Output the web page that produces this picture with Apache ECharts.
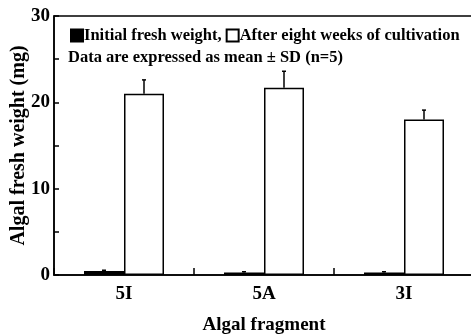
<!DOCTYPE html>
<html><head><meta charset="utf-8">
<script src="https://cdn.jsdelivr.net/npm/echarts@6/dist/echarts.min.js"></script>
<style>html,body{margin:0;padding:0;background:#fff}#c{width:471px;height:334px}</style>
</head><body><div id="c"></div>
<script>
var categories = ['5I', '5A', '3I'];
var initialMean = [0.45, 0.3, 0.3];
var initialSD = [0.1, 0.08, 0.08];
var afterMean = [21.0, 21.7, 18.0];
var afterSD = [1.6, 1.9, 1.1];
var yTicks = [0, 10, 20, 30];

var F = '"Liberation Serif","DejaVu Serif",serif';
var chart = echarts.init(document.getElementById('c'));

function errSeries(means, sds, side) {
  var data = means.map(function (m, i) { return [i, m, m + sds[i]]; });
  return {
    type: 'custom',
    silent: true,
    z: 5,
    data: data,
    encode: { x: 0, y: [1, 2] },
    renderItem: function (params, api) {
      var c = api.value(0);
      var band = api.size([1, 0])[0];
      var off = side * band * 20 / 140;
      var p0 = api.coord([c, api.value(1)]);
      var p1 = api.coord([c, api.value(2)]);
      var x = p0[0] + off;
      return {
        type: 'group',
        children: [
          { type: 'line', shape: { x1: x, y1: p0[1], x2: x, y2: p1[1] }, style: { stroke: '#000', lineWidth: 1.5 } },
          { type: 'line', shape: { x1: x - 2, y1: p1[1], x2: x + 2, y2: p1[1] }, style: { stroke: '#000', lineWidth: 1.5 } }
        ]
      };
    }
  };
}

chart.setOption({
  animation: false,
  backgroundColor: '#fff',
  grid: { left: 54, top: 16, width: 420, bottom: 59, outerBoundsMode: 'none', containLabel: false,
    show: true, borderColor: '#000', borderWidth: 1.5, backgroundColor: 'transparent' },
  legend: {
    left: 65, top: 22, itemWidth: 12, itemHeight: 12, itemGap: 4, icon: 'rect',
    textStyle: { fontFamily: F, fontWeight: 'bold', fontSize: 16.5, color: '#000', padding: [0, 0, 0, -4] },
    formatter: function (n) { return n === 'Initial fresh weight' ? n + ',' : n; },
    data: ['Initial fresh weight', 'After eight weeks of cultivation']
  },
  graphic: [{
    type: 'text', left: 68, top: 49,
    style: { text: 'Data are expressed as mean \u00b1 SD (n=5)', font: 'bold 16.5px ' + F, fill: '#000' }
  }],
  xAxis: {
    type: 'category', data: categories,
    name: 'Algal fragment', nameLocation: 'middle', nameGap: 41, nameMoveOverlap: false,
    nameTextStyle: { fontFamily: F, fontWeight: 'bold', fontSize: 19, color: '#000' },
    axisLine: { lineStyle: { color: '#000', width: 1.5 } },
    axisTick: { show: true, inside: true, length: 7, lineStyle: { color: '#000', width: 1.5 } },
    axisLabel: { fontFamily: F, fontWeight: 'bold', fontSize: 19, color: '#000', margin: 10 }
  },
  yAxis: {
    type: 'value', min: 0, max: 30, interval: 10,
    name: 'Algal fresh weight (mg)', nameLocation: 'middle', nameGap: 25, nameMoveOverlap: false,
    nameTextStyle: { fontFamily: F, fontWeight: 'bold', fontSize: 20, color: '#000' },
    axisLine: { show: true, lineStyle: { color: '#000', width: 1.5 } },
    axisTick: { show: true, inside: true, length: 5, lineStyle: { color: '#000', width: 1.5 } },
    minorTick: { show: true, splitNumber: 2, length: 5, lineStyle: { color: '#000', width: 1.5 } },
    splitLine: { show: false },
    axisLabel: {
      fontFamily: F, fontWeight: 'bold', fontSize: 19, color: '#000', margin: 4,
      formatter: function (v) { return yTicks.indexOf(v) >= 0 ? String(v) : ''; }
    }
  },
  series: [
    { name: 'Initial fresh weight', type: 'bar', data: initialMean, barWidth: 40, barGap: '0%',
      itemStyle: { color: '#000', borderColor: '#000', borderWidth: 1.5 } },
    { name: 'After eight weeks of cultivation', type: 'bar', data: afterMean, barWidth: 40,
      itemStyle: { color: '#fff', borderColor: '#000', borderWidth: 1.5 } },
    errSeries(initialMean, initialSD, -1),
    errSeries(afterMean, afterSD, 1)
  ]
});
</script></body></html>
